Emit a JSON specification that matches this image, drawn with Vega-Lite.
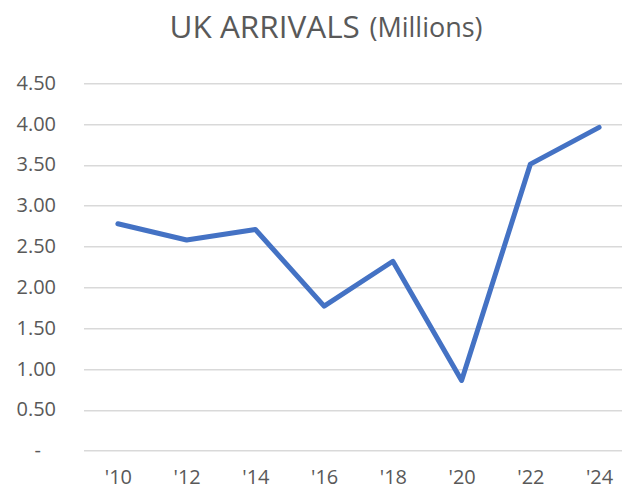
{
  "$schema": "https://vega.github.io/schema/vega-lite/v6.json",
  "autosize": "none",
  "padding": {"left": 83.5, "top": 83.3, "right": 0, "bottom": 39},
  "width": 550,
  "height": 367.4,
  "background": "white",
  "title": {
    "text": "UK ARRIVALS",
    "subtitle": "\u2800\u2800\u2800\u2800\u2800\u2800\u2800\u2800\u2800\u2800(Millions)",
    "anchor": "start",
    "frame": "group",
    "align": "left",
    "dx": 86,
    "font": "Open Sans",
    "fontSize": 31.5,
    "fontWeight": "normal",
    "color": "#595959",
    "subtitleFont": "Open Sans",
    "subtitleFontSize": 27,
    "subtitleColor": "#595959",
    "subtitlePadding": -27.9,
    "offset": 29
  },
  "data": {
    "values": [
      {"year": "'10", "arrivals": 2.78},
      {"year": "'12", "arrivals": 2.58},
      {"year": "'14", "arrivals": 2.71},
      {"year": "'16", "arrivals": 1.77},
      {"year": "'18", "arrivals": 2.32},
      {"year": "'20", "arrivals": 0.86},
      {"year": "'22", "arrivals": 3.51},
      {"year": "'24", "arrivals": 3.96}
    ]
  },
  "mark": {"type": "line", "color": "#4472C4", "strokeWidth": 5, "strokeCap": "round", "strokeJoin": "round"},
  "encoding": {
    "x": {
      "field": "year",
      "type": "ordinal",
      "sort": null,
      "scale": {"type": "point", "padding": 0.5},
      "axis": {
        "title": null,
        "domain": false,
        "ticks": false,
        "grid": false,
        "labelAngle": 0,
        "labelFont": "Open Sans",
        "labelFontSize": 20,
        "labelColor": "#595959",
        "labelPadding": 17
      }
    },
    "y": {
      "field": "arrivals",
      "type": "quantitative",
      "scale": {"domain": [0, 4.5]},
      "axis": {
        "title": null,
        "values": [0, 0.5, 1, 1.5, 2, 2.5, 3, 3.5, 4, 4.5],
        "labelExpr": "datum.value == 0 ? '-\u2800' : format(datum.value, '.2f')",
        "domain": false,
        "ticks": false,
        "grid": true,
        "gridColor": "#d9d9d9",
        "gridWidth": 1.5,
        "labelFont": "Open Sans",
        "labelFontSize": 20,
        "labelColor": "#595959",
        "labelPadding": 28
      }
    }
  },
  "config": {"view": {"stroke": null}}
}
